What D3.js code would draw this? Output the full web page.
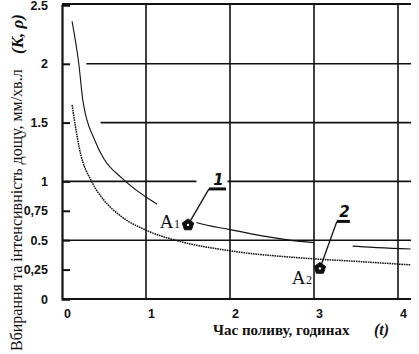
<!DOCTYPE html>
<html>
<head>
<meta charset="utf-8">
<script src="https://cdn.jsdelivr.net/npm/d3@7"></script>
<style>
  body { margin: 0; background: #fff; }
  svg { display: block; }
</style>
</head>
<body>
<div id="chart"></div>
<script>
// curve 1 (solid) and curve 2 (dotted)
var curve1T = [0.12, 0.2, 0.25, 0.39, 0.5, 0.71, 1.1, 1.6, 2.0, 2.4, 2.83, 3.0, 3.46, 4.15];
var curve1V = [2.36, 2.0, 1.68, 1.35, 1.19, 1.03, 0.82, 0.65, 0.59, 0.535, 0.49, 0.48, 0.45, 0.425];
var curve2T = [0.12, 0.21, 0.36, 0.5, 0.71, 1.0, 1.35, 2.0, 2.83, 3.5, 4.15];
var curve2V = [1.65, 1.27, 0.99, 0.84, 0.70, 0.585, 0.50, 0.41, 0.35, 0.32, 0.29];

// marked points A1, A2
var pointNames = ["A", "A"];
var pointSubs = ["1", "2"];
var pointT = [1.5, 3.07];
var pointV = [0.63, 0.26];
var curveNums = ["1", "2"];

var yTicks = [0, 0.25, 0.5, 0.75, 1, 1.5, 2, 2.5];
var yTickLabels = ["0", "0,25", "0.5", "0,75", "1", "1.5", "2", "2.5"];
var xTicks = [0, 1, 2, 3, 4];
var xTickLabels = ["0", "1", "2", "3", "4"];

var width = 419, height = 354;

var svg = d3.select("#chart").append("svg")
    .attr("width", width)
    .attr("height", height);

var x = d3.scaleLinear().domain([0, 4]).range([62, 398]);
var y = d3.scaleLinear().domain([0, 2.5]).range([299, 5]);
var tMax = 4.155;

// grid: horizontal lines (some start right of the curves, as in the scan)
var hGrid = [
    {v: 2, from: 0.29, to: tMax},
    {v: 1.5, from: 0.46, to: tMax},
    {v: 1, from: 0, to: 1.6},
    {v: 1, from: 1.97, to: tMax},
    {v: 0.5, from: 0, to: tMax}
];
svg.selectAll(".hgrid")
    .data(hGrid)
    .enter().append("line")
    .attr("class", "hgrid")
    .attr("x1", d => x(d.from))
    .attr("x2", d => x(d.to))
    .attr("y1", d => y(d.v))
    .attr("y2", d => y(d.v))
    .style("stroke", "#111")
    .style("stroke-width", 1.6);

// vertical grid lines
svg.selectAll(".vgrid")
    .data([1, 2, 3, 4])
    .enter().append("line")
    .attr("class", "vgrid")
    .attr("x1", d => x(d))
    .attr("x2", d => x(d))
    .attr("y1", y(2.5) - 1)
    .attr("y2", y(0))
    .style("stroke", "#111")
    .style("stroke-width", 1.6);

// frame top
svg.append("line")
    .attr("x1", x(0)).attr("x2", x(tMax))
    .attr("y1", y(2.5) - 1).attr("y2", y(2.5) - 1)
    .style("stroke", "#111").style("stroke-width", 2);

// y axis
var yAxis = svg.append("g")
    .attr("transform", "translate(" + x(0) + ",0)")
    .call(d3.axisLeft(y)
        .tickValues(yTicks)
        .tickFormat((d, i) => yTickLabels[i])
        .tickSize(-8)
        .tickPadding(14));
yAxis.select(".domain").style("stroke", "#111").style("stroke-width", 2.2);
yAxis.selectAll(".tick line").style("stroke", "#111").style("stroke-width", 2);
yAxis.selectAll("text")
    .style("font-family", "'Liberation Sans', Arial, sans-serif")
    .style("font-weight", "bold")
    .style("font-size", "12.5px")
    .style("fill", "#111");

// x axis
var xAxis = svg.append("g")
    .attr("transform", "translate(0," + y(0) + ")")
    .call(d3.axisBottom(x)
        .tickValues(xTicks)
        .tickFormat((d, i) => xTickLabels[i])
        .tickSize(0)
        .tickPadding(10));
xAxis.select(".domain").remove();
xAxis.append("line")
    .attr("x1", x(0)).attr("x2", x(tMax))
    .style("stroke", "#111").style("stroke-width", 2.2);
xAxis.selectAll("text")
    .attr("dx", 5)
    .style("font-family", "'Liberation Sans', Arial, sans-serif")
    .style("font-weight", "bold")
    .style("font-size", "12.5px")
    .style("fill", "#111");

// curves
var line = d3.line()
    .x(d => x(d[0]))
    .y(d => y(d[1]))
    .curve(d3.curveMonotoneX);

var c1 = curve1T.map((t, i) => [t, curve1V[i]]);
var c2 = curve2T.map((t, i) => [t, curve2V[i]]);

// gaps in curve 1 where the labels sit
var gaps = [[1.13, 1.6], [3.0, 3.46]];
var mask = svg.append("defs").append("mask").attr("id", "gap");
mask.append("rect").attr("width", width).attr("height", height).style("fill", "#fff");
mask.selectAll("rect.g")
    .data(gaps)
    .enter().append("rect")
    .attr("class", "g")
    .attr("x", d => x(d[0]))
    .attr("width", d => x(d[1]) - x(d[0]))
    .attr("y", 0).attr("height", height)
    .style("fill", "#000");

svg.append("path")
    .datum(c1)
    .attr("d", line)
    .attr("mask", "url(#gap)")
    .style("fill", "none")
    .style("stroke", "#111")
    .style("stroke-width", 1.1);

svg.append("path")
    .datum(c2)
    .attr("d", line)
    .style("fill", "none")
    .style("stroke", "#111")
    .style("stroke-width", 1.5)
    .style("stroke-dasharray", "1.6,0.8");

// point markers with leader lines to curve numbers
var pts = pointT.map((t, i) => ({t: t, v: pointV[i], name: pointNames[i], sub: pointSubs[i], num: curveNums[i]}));
var leader = [{dx: 21, dy: -36, bar: 17}, {dx: 17, dy: -47, bar: 13}];
var labelDy = [3, 16];

var pentagon = function (r) {
    return d3.range(5).map(function (k) {
        var a = -Math.PI / 2 + k * 2 * Math.PI / 5;
        return [r * Math.cos(a), r * Math.sin(a)];
    });
};

var g = svg.selectAll(".pt")
    .data(pts)
    .enter().append("g")
    .attr("class", "pt")
    .attr("transform", d => "translate(" + x(d.t) + "," + y(d.v) + ")");

g.append("path")
    .attr("d", (d, i) => "M0,0L" + leader[i].dx + "," + leader[i].dy)
    .style("fill", "none")
    .style("stroke", "#111")
    .style("stroke-width", 1.3);
g.append("line")
    .attr("x1", (d, i) => leader[i].dx)
    .attr("x2", (d, i) => leader[i].dx + leader[i].bar)
    .attr("y1", (d, i) => leader[i].dy)
    .attr("y2", (d, i) => leader[i].dy)
    .style("stroke", "#111")
    .style("stroke-width", 3);
g.append("text")
    .attr("x", (d, i) => leader[i].dx + leader[i].bar / 2 + 1)
    .attr("y", (d, i) => leader[i].dy - 4)
    .attr("text-anchor", "middle")
    .style("font-family", "'DejaVu Sans', sans-serif")
    .style("font-style", "italic")
    .style("font-weight", "bold")
    .style("font-size", "15px")
    .style("fill", "#111")
    .text(d => d.num);

g.append("polygon")
    .attr("points", pentagon(6).join(" "))
    .style("fill", "#111")
    .style("stroke", "#111")
    .style("stroke-width", 1);
g.append("circle")
    .attr("r", 1.2)
    .style("fill", "#fff");

var lab = g.append("text")
    .attr("x", -8)
    .attr("y", (d, i) => labelDy[i])
    .attr("text-anchor", "end")
    .style("font-family", "'Liberation Serif', 'Times New Roman', serif")
    .style("font-size", "19px")
    .style("fill", "#111");
lab.append("tspan").text(d => d.name);
lab.append("tspan")
    .attr("dx", 0.5)
    .style("font-size", "12px")
    .text(d => d.sub);

// axis titles
svg.append("text")
    .attr("x", 213)
    .attr("y", 335)
    .style("font-family", "'Liberation Serif', 'Times New Roman', serif")
    .style("font-weight", "bold")
    .style("font-size", "15px")
    .style("fill", "#111")
    .text("Час поливу, годинах");
svg.append("text")
    .attr("x", 374)
    .attr("y", 335)
    .style("font-family", "'Liberation Serif', 'Times New Roman', serif")
    .style("font-weight", "bold")
    .style("font-style", "italic")
    .style("font-size", "16px")
    .style("fill", "#111")
    .text("(t)");

svg.append("text")
    .attr("transform", "translate(22,351) rotate(-90)")
    .style("font-family", "'Liberation Serif', 'Times New Roman', serif")
    .style("font-size", "16px")
    .style("fill", "#111")
    .text("Вбирання та інтенсивність дощу, мм/хв.л");
svg.append("text")
    .attr("transform", "translate(23,54) rotate(-90)")
    .style("font-family", "'Liberation Serif', 'Times New Roman', serif")
    .style("font-weight", "bold")
    .style("font-style", "italic")
    .style("font-size", "17px")
    .style("fill", "#111")
    .text("(K, ρ)");
</script>
</body>
</html>
